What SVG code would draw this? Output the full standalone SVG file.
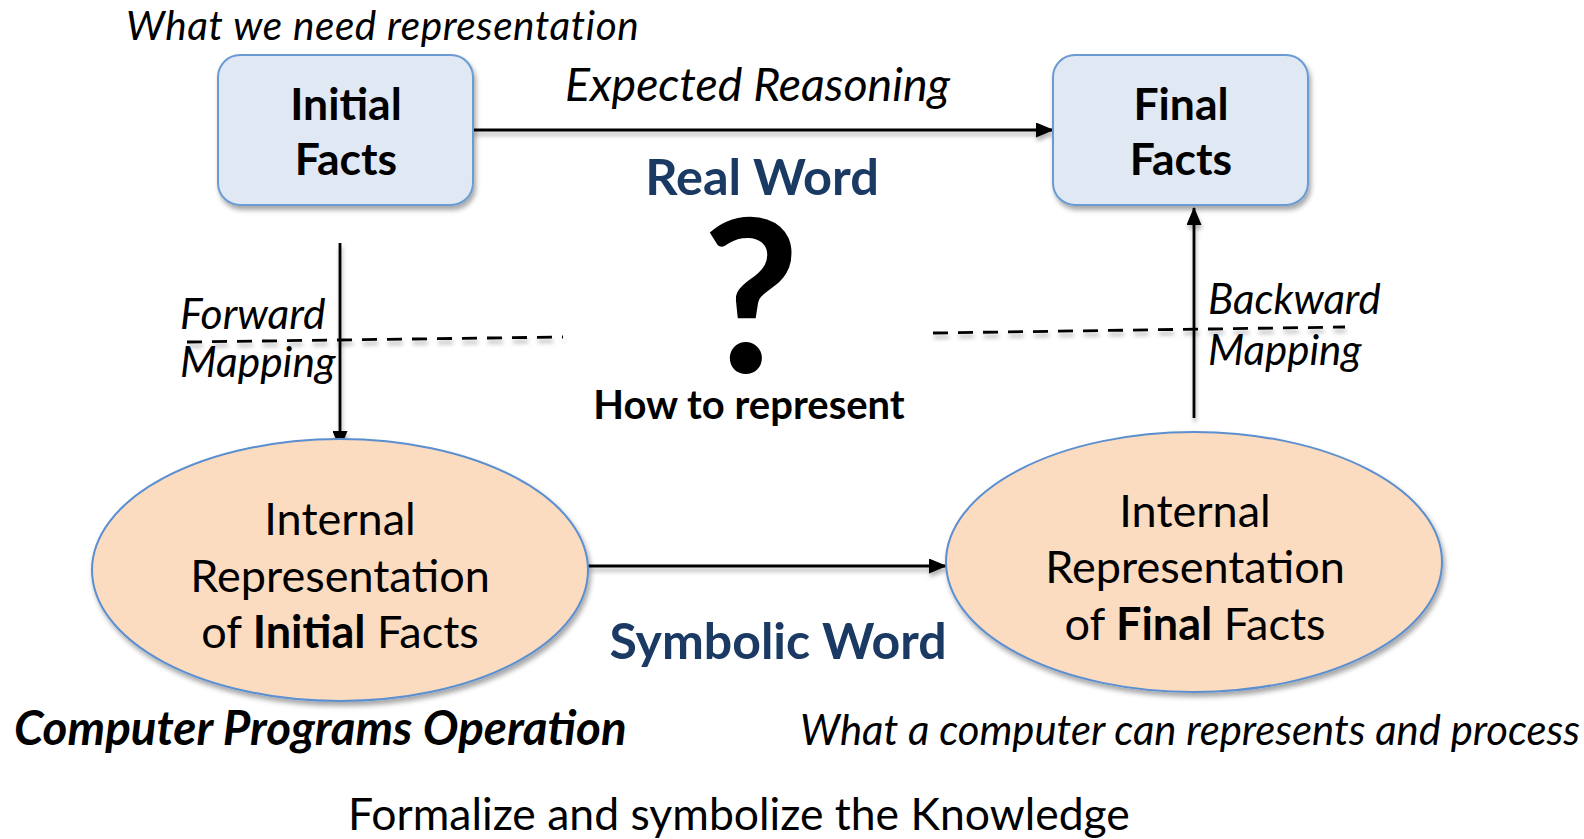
<svg xmlns="http://www.w3.org/2000/svg" width="1584" height="839" viewBox="0 0 1584 839">
  <style>
    .t { font-family: Lato, "Open Sans", "Liberation Sans", sans-serif; fill: #000; }
    .b { font-weight: 700; }
    .i { font-style: italic; }
    .blue { fill: #1b3a63; }
    .box { fill: #dfe8f3; stroke: #6b9bd3; stroke-width: 2; }
    .oval { fill: #fbdcc0; stroke: #5b8fd0; stroke-width: 2; }
    .edge { stroke: #000; stroke-width: 2.8; fill: none; }
    .dash { stroke: #000; stroke-width: 2.8; fill: none; stroke-dasharray: 15 10; }
  </style>
  <defs>
    <filter id="shadow" x="-10%" y="-10%" width="125%" height="130%">
      <feDropShadow dx="2" dy="4" stdDeviation="2.5" flood-color="#000" flood-opacity="0.35"/>
    </filter>
    <filter id="lineShadow" x="-5%" y="-200%" width="110%" height="500%">
      <feDropShadow dx="1" dy="4" stdDeviation="2" flood-color="#000" flood-opacity="0.3"/>
    </filter>
    <marker id="arrow" viewBox="0 0 18 15" refX="17" refY="7.5" markerWidth="18" markerHeight="15" markerUnits="userSpaceOnUse" orient="auto">
      <path d="M0,0 L18,7.5 L0,15 z" fill="#000"/>
    </marker>
  </defs>

  <rect width="1584" height="839" fill="#fff"/>

  <!-- free labels -->
  <text class="t i" x="126" y="40" font-size="40.5" letter-spacing="0.6">What we need representation</text>
  <text class="t i" x="565" y="101" font-size="46.5">Expected Reasoning</text>
  <text class="t b blue" x="762" y="195" font-size="50.5" text-anchor="middle">Real Word</text>
  <text class="t b" x="751" y="373" font-size="212" text-anchor="middle">?</text>
  <text class="t b" x="749" y="419" font-size="40" text-anchor="middle">How to represent</text>
  <text class="t b blue" x="778" y="659" font-size="50" text-anchor="middle">Symbolic Word</text>
  <text class="t b i" x="14" y="745" font-size="47.5">Computer Programs Operation</text>
  <text class="t i" x="800" y="745" font-size="41.8">What a computer can represents and process</text>
  <text class="t" x="739" y="830" font-size="44.5" text-anchor="middle">Formalize and symbolize the Knowledge</text>

  <!-- connectors -->
  <g id="connectors">
    <g filter="url(#lineShadow)">
      <line class="dash" x1="187" y1="342" x2="563" y2="337"/>
      <line class="dash" x1="933" y1="333" x2="1345" y2="327"/>
    </g>
    <g filter="url(#lineShadow)">
      <line class="edge" x1="473" y1="130" x2="1053" y2="130" marker-end="url(#arrow)"/>
      <line class="edge" x1="340" y1="243" x2="340" y2="448" marker-end="url(#arrow)"/>
      <line class="edge" x1="1194" y1="418" x2="1194" y2="208" marker-end="url(#arrow)"/>
      <line class="edge" x1="588" y1="566" x2="946" y2="566" marker-end="url(#arrow)"/>
    </g>
    <text class="t i" x="180" y="329" font-size="42.5">Forward</text>
    <text class="t i" x="180" y="377" font-size="42.5">Mapping</text>
    <text class="t i" x="1208" y="314" font-size="42">Backward</text>
    <text class="t i" x="1208" y="365" font-size="42">Mapping</text>
  </g>

  <!-- real-world facts -->
  <g id="initial-facts">
    <rect class="box" x="218" y="55" width="255" height="150" rx="22" filter="url(#shadow)"/>
    <text class="t b" x="346" y="120" font-size="44.5" text-anchor="middle">Initial</text>
    <text class="t b" x="346" y="175" font-size="44.5" text-anchor="middle">Facts</text>
  </g>
  <g id="final-facts">
    <rect class="box" x="1053" y="55" width="255" height="150" rx="22" filter="url(#shadow)"/>
    <text class="t b" x="1181" y="120" font-size="44.5" text-anchor="middle">Final</text>
    <text class="t b" x="1181" y="175" font-size="44.5" text-anchor="middle">Facts</text>
  </g>

  <!-- symbolic representations -->
  <g id="internal-initial">
    <ellipse class="oval" cx="340" cy="570" rx="248" ry="131" filter="url(#shadow)"/>
    <text class="t" x="340" y="535" font-size="45" text-anchor="middle">Internal</text>
    <text class="t" x="340" y="592" font-size="45" text-anchor="middle">Representation</text>
    <text class="t" x="340" y="648" font-size="45" text-anchor="middle">of <tspan class="b">Initial</tspan> Facts</text>
  </g>
  <g id="internal-final">
    <ellipse class="oval" cx="1194" cy="562" rx="248" ry="130" filter="url(#shadow)"/>
    <text class="t" x="1195" y="527" font-size="45" text-anchor="middle">Internal</text>
    <text class="t" x="1195" y="583" font-size="45" text-anchor="middle">Representation</text>
    <text class="t" x="1195" y="640" font-size="45" text-anchor="middle">of <tspan class="b">Final</tspan> Facts</text>
  </g>
</svg>
